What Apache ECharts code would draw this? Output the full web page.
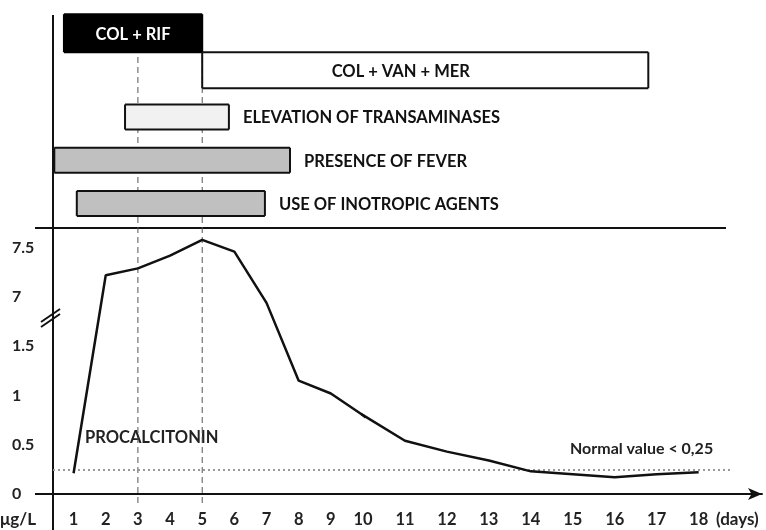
<!DOCTYPE html>
<html>
<head>
<meta charset="utf-8">
<script src="https://cdn.jsdelivr.net/npm/echarts@6/dist/echarts.min.js"></script>
<style>
  html, body { margin: 0; padding: 0; background: #fff; }
  #main { width: 766px; height: 530px; }
</style>
</head>
<body>
<div id="main"></div>
<script>
// top panel: treatments and clinical events (days)
const taskNames = ['COL + RIF', 'COL + VAN + MER', 'ELEVATION OF TRANSAMINASES', 'PRESENCE OF FEVER', 'USE OF INOTROPIC AGENTS'];
const taskStart = [0.7, 5, 2.6, 0.4, 1.1];
const taskEnd = [5, 16.8, 5.83, 7.73, 6.95];

// procalcitonin (μg/L) per day
const days = [1, 2, 3, 4, 5, 6, 7, 8, 9, 10, 11, 12, 13, 14, 15, 16, 17, 18];
const pct = [0.21, 7.22, 7.29, 7.42, 7.58, 7.46, 1.94, 1.15, 1.02, 0.8, 0.54, 0.43, 0.34, 0.23, 0.2, 0.17, 0.2, 0.22];

const yTicks = [0, 0.5, 1, 1.5, 7, 7.5];
const markedDays = [3, 5];
const normalValue = 0.25;
const normalEndDay = 18.75;

// x scale is drawn in two pieces (the original is wider after day 10)
const X_MIN = 0.36, X_SPLIT = 10, X_MAX = 19.51;

const taskStyle = [
  { fill: '#000', stroke: '#000', text: '#fff', align: 'bottom', h: 38, inside: true },
  { fill: '#fff', stroke: '#111', text: '#111', align: 'top', h: 36, inside: true },
  { fill: '#f1f1f1', stroke: '#111', text: '#111', align: 'middle', h: 25 },
  { fill: '#c0c0c0', stroke: '#111', text: '#111', align: 'middle', h: 25 },
  { fill: '#c0c0c0', stroke: '#111', text: '#111', align: 'middle', h: 25 }
];

const FONT = 'Lato';
const xLabelFont = { fontFamily: FONT, fontWeight: 'bold', fontSize: 16.5, color: '#222' };
const yLabelFont = { fontFamily: FONT, fontWeight: 'bold', fontSize: 16, color: '#222' };

let myChart = echarts.init(document.getElementById('main'), null, { renderer: 'canvas' });

function renderTask(params, api) {
  const lane = api.value(0);
  const a = api.coord([api.value(1), lane]);
  const b = api.coord([api.value(2), lane]);
  const band = api.size([0, 1])[1];
  const cs = params.coordSys;
  const st = taskStyle[lane];
  let top;
  if (st.align === 'bottom') top = a[1] + band / 2 - st.h;
  else if (st.align === 'top') top = a[1] - band / 2;
  else top = a[1] - st.h / 2;
  const bottom = top + st.h;
  const left = Math.max(a[0], cs.x);
  const right = Math.min(b[0], cs.x + cs.width);
  const children = [];
  if (right > left) {
    children.push({ type: 'rect', shape: { x: left, y: top, width: right - left, height: st.h }, style: { fill: st.fill } });
    const line = (x1, y1, x2, y2) => ({ type: 'line', shape: { x1, y1, x2, y2 }, style: { stroke: st.stroke, lineWidth: 2 } });
    children.push(line(left, top, right, top));
    children.push(line(left, bottom, right, bottom));
    if (a[0] >= cs.x - 0.5) children.push(line(left, top, left, bottom));
    if (b[0] <= cs.x + cs.width + 0.5) children.push(line(right, top, right, bottom));
  }
  // label
  let tx, align;
  if (st.inside) { tx = (a[0] + b[0]) / 2; align = 'center'; }
  else { tx = b[0] + 14; align = 'left'; }
  const anchor = st.inside ? tx : b[0];
  if (anchor >= cs.x && anchor < cs.x + cs.width) {
    children.push({
      type: 'text',
      style: {
        text: taskNames[lane], x: tx, y: (top + bottom) / 2 + 1,
        align: align, verticalAlign: 'middle',
        fill: st.text, font: 'bold 16.5px ' + FONT
      }
    });
  }
  return { type: 'group', children };
}

function renderMarked(params, api) {
  const p = api.coord([api.value(0), 0]);
  const cs = params.coordSys;
  return {
    type: 'line',
    shape: { x1: p[0], y1: cs.y, x2: p[0], y2: cs.y + cs.height },
    style: { stroke: '#555', lineWidth: 1, lineDash: [6, 4] }
  };
}

const pctData = days.map((d, i) => [d, pct[i]]);
const taskData = taskNames.map((n, i) => [i, taskStart[i], taskEnd[i]]);

const yBreak = {
  type: 'value', min: 0, max: 7.7,
  breaks: [{ start: 2, end: 7, gap: 0 }],
  breakArea: { show: false },
  splitLine: { show: false },
  axisTick: { show: false }
};

let option = {
  animation: false,
  grid: [
    { left: 53, top: 228, width: 310, height: 266 },
    { left: 363, top: 228, width: 399, height: 266 },
    { left: 53, top: 9, width: 310, height: 216 },
    { left: 363, top: 9, width: 399, height: 216 },
    { left: 53, top: 57, width: 310, height: 450 }
  ],
  xAxis: [
    {
      gridIndex: 0, type: 'value', min: X_MIN, max: X_SPLIT,
      axisLine: { lineStyle: { color: '#111', width: 2 } },
      axisTick: { show: false }, splitLine: { show: false },
      axisLabel: Object.assign({ customValues: days.filter(d => d <= X_SPLIT), margin: 17 }, xLabelFont)
    },
    {
      gridIndex: 1, type: 'value', min: X_SPLIT, max: X_MAX,
      axisLine: { symbol: ['none', 'arrow'], symbolSize: [9, 14], lineStyle: { color: '#111', width: 2 } },
      axisTick: { show: false }, splitLine: { show: false },
      axisLabel: Object.assign({ customValues: days.filter(d => d > X_SPLIT), margin: 17 }, xLabelFont)
    },
    { gridIndex: 2, type: 'value', min: X_MIN, max: X_SPLIT, show: false },
    { gridIndex: 3, type: 'value', min: X_SPLIT, max: X_MAX, show: false },
    { gridIndex: 4, type: 'value', min: X_MIN, max: X_SPLIT, show: false }
  ],
  yAxis: [
    Object.assign({}, yBreak, {
      gridIndex: 0,
      axisLine: { show: true, lineStyle: { color: '#111', width: 2 } },
      axisLabel: Object.assign({ customValues: yTicks, align: 'left', margin: 41 }, yLabelFont)
    }),
    Object.assign({}, yBreak, { gridIndex: 1, show: false }),
    { gridIndex: 2, type: 'category', data: taskNames, inverse: true, show: false },
    { gridIndex: 3, type: 'category', data: taskNames, inverse: true, show: false },
    { gridIndex: 4, type: 'value', min: 0, max: 1, show: false }
  ],
  series: [
    {
      type: 'line', xAxisIndex: 0, yAxisIndex: 0, data: pctData,
      symbol: 'none', clip: true, z: 5,
      lineStyle: { color: '#111', width: 2.5 },
      markLine: {
        silent: true, symbol: 'none', label: { show: false },
        lineStyle: { color: '#999', type: [2, 3], width: 2 },
        data: [{ yAxis: normalValue }]
      }
    },
    {
      type: 'line', xAxisIndex: 1, yAxisIndex: 1, data: pctData,
      symbol: 'none', clip: true, z: 5,
      lineStyle: { color: '#111', width: 2.5 },
      markLine: {
        silent: true, symbol: 'none', label: { show: false },
        lineStyle: { color: '#999', type: [2, 3], width: 2 },
        data: [[{ coord: [X_SPLIT, normalValue] }, { coord: [normalEndDay, normalValue] }]]
      }
    },
    { type: 'custom', xAxisIndex: 2, yAxisIndex: 2, data: taskData, renderItem: renderTask, encode: { x: [1, 2], y: 0 }, z: 3 },
    { type: 'custom', xAxisIndex: 3, yAxisIndex: 3, data: taskData, renderItem: renderTask, encode: { x: [1, 2], y: 0 }, z: 3 },
    { type: 'custom', xAxisIndex: 4, yAxisIndex: 4, data: markedDays.map(d => [d]), renderItem: renderMarked, encode: { x: 0 }, z: 2 }
  ],
  graphic: [
    // frame lines
    { type: 'line', silent: true, shape: { x1: 53, y1: 15, x2: 53, y2: 228 }, style: { stroke: '#111', lineWidth: 2 } },
    { type: 'line', silent: true, shape: { x1: 53, y1: 494, x2: 53, y2: 530 }, style: { stroke: '#111', lineWidth: 2 } },
    { type: 'line', silent: true, shape: { x1: 35, y1: 228, x2: 726, y2: 228 }, style: { stroke: '#111', lineWidth: 2 } },
    { type: 'line', silent: true, shape: { x1: 35, y1: 494, x2: 53, y2: 494 }, style: { stroke: '#111', lineWidth: 2 } },
    // axis break mark
    { type: 'line', silent: true, shape: { x1: 41, y1: 322, x2: 60, y2: 309 }, style: { stroke: '#111', lineWidth: 2 } },
    { type: 'line', silent: true, shape: { x1: 41, y1: 327, x2: 60, y2: 314 }, style: { stroke: '#111', lineWidth: 2 } },
    // texts
    { type: 'text', silent: true, style: { text: 'μg/L', x: 0, y: 520, verticalAlign: 'middle', fill: '#222', font: 'bold 17px ' + FONT } },
    { type: 'text', silent: true, style: { text: '(days)', x: 716, y: 520, verticalAlign: 'middle', fill: '#222', font: 'bold 17px ' + FONT } },
    { type: 'text', silent: true, style: { text: 'PROCALCITONIN', x: 85, y: 438, verticalAlign: 'middle', fill: '#222', font: 'bold 16.5px ' + FONT } },
    { type: 'text', silent: true, style: { text: 'Normal value < 0,25', x: 570, y: 449, verticalAlign: 'middle', fill: '#222', font: 'bold 16px ' + FONT } }
  ]
};

option && myChart.setOption(option);
</script>
</body>
</html>
